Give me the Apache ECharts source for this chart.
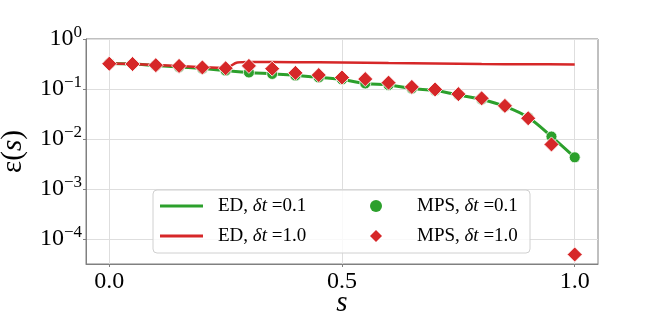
<!DOCTYPE html>
<html>
<head>
<meta charset="utf-8">
<script src="https://cdn.jsdelivr.net/npm/echarts@6/dist/echarts.min.js"></script>
<style>
  html, body { margin: 0; padding: 0; background: #fff; }
  #chart { width: 665px; height: 331px; }
</style>
</head>
<body>
<div id="chart"></div>
<script>
// s grid of the MPS points
const sGrid = [0, 0.05, 0.1, 0.15, 0.2, 0.25, 0.3, 0.35, 0.4, 0.45, 0.5,
  0.55, 0.6, 0.65, 0.7, 0.75, 0.8, 0.85, 0.9, 0.95, 1.0];

// ED, dt = 0.1 (green line)
const ed01 = [0.324, 0.316, 0.295, 0.275, 0.257, 0.234, 0.214, 0.200, 0.186, 0.170, 0.155,
  0.129, 0.120, 0.102, 0.093, 0.076, 0.062, 0.045, 0.027, 0.0112, 0.0043];

// ED, dt = 1.0 (red line)
const ed10S = [0, 0.05, 0.1, 0.15, 0.2, 0.25, 0.275, 0.3, 0.4, 0.5, 0.6, 0.7, 0.8, 0.9, 1.0];
const ed10 = [0.324, 0.316, 0.302, 0.288, 0.272, 0.263, 0.339, 0.347, 0.343, 0.339,
  0.331, 0.324, 0.316, 0.313, 0.309];

// MPS, dt = 0.1 (green dots)
const mps01 = [0.324, 0.316, 0.295, 0.275, 0.257, 0.234, 0.214, 0.200, 0.186, 0.170, 0.155,
  0.129, 0.120, 0.102, 0.093, 0.076, 0.062, 0.045, 0.027, 0.0112, 0.0043];

// MPS, dt = 1.0 (red diamonds)
const mps10 = [0.32, 0.316, 0.30, 0.29, 0.27, 0.26, 0.29, 0.255, 0.21, 0.19, 0.17,
  0.158, 0.134, 0.11, 0.098, 0.079, 0.065, 0.046, 0.026, 0.0078, 0.000049];

const xTicks = [0, 0.5, 1.0];

const pair = (xs, ys) => xs.map((x, i) => [x, ys[i]]);

const FONT = '"Liberation Serif", "DejaVu Serif", serif';
const GREEN = '#2ca02c';
const RED = '#d62728';

const chart = echarts.init(document.getElementById('chart'));

const legendRich = {
  i: { fontFamily: FONT, fontStyle: 'italic', fontSize: 19, color: '#000' }
};
const legendFmt = name => {
  const m = name.split('|');
  return m[0] + ', {i|δt} =' + m[1];
};

chart.setOption({
  animation: false,
  backgroundColor: '#fff',
  grid: { left: 86, right: 67, top: 39, bottom: 67, show: false, outerBoundsMode: 'none', containLabel: false },
  xAxis: {
    type: 'value',
    min: -0.05,
    max: 1.05,
    name: 's',
    nameLocation: 'middle',
    nameGap: 25,
    nameMoveOverlap: false,
    nameTextStyle: { fontFamily: FONT, fontStyle: 'italic', fontSize: 29, color: '#000' },
    axisLine: { show: true, onZero: false, lineStyle: { color: '#808080', width: 1 } },
    axisTick: { show: true, customValues: xTicks, length: 3, lineStyle: { color: '#808080' } },
    axisLabel: {
      customValues: xTicks,
      fontFamily: FONT, fontSize: 24, color: '#000', margin: 6,
      formatter: v => v.toFixed(1)
    },
    splitLine: { show: true, lineStyle: { color: '#dedede', width: 1 } }
  },
  yAxis: {
    type: 'log',
    logBase: 10,
    min: Math.pow(10, -4.5),
    max: 1,
    name: '{e|ε}({s|s})',
    nameLocation: 'middle',
    nameRotate: 90,
    nameGap: 58,
    nameMoveOverlap: false,
    nameTextStyle: {
      fontFamily: FONT, fontSize: 29, color: '#000',
      rich: {
        e: { fontFamily: FONT, fontSize: 29, color: '#000' },
        s: { fontFamily: FONT, fontStyle: 'italic', fontSize: 29, color: '#000' }
      }
    },
    axisLine: { show: true, onZero: false, lineStyle: { color: '#808080', width: 1 } },
    axisTick: { show: true, length: 3, lineStyle: { color: '#808080' } },
    axisLabel: {
      showMinLabel: false,
      margin: 4,
      formatter: v => {
        const e = Math.round(Math.log10(v));
        return '{b|10}{sup|' + (e < 0 ? '\u2212' + (-e) : e) + '}';
      },
      rich: {
        b: { fontFamily: FONT, fontSize: 24, color: '#000' },
        sup: { fontFamily: FONT, fontSize: 17, color: '#000', padding: [0, 0, 12, 0] }
      }
    },
    splitLine: { show: true, lineStyle: { color: '#dedede', width: 1 } }
  },
  graphic: [
    {
      type: 'rect',
      z: 3,
      shape: { x: 153, y: 190, width: 377, height: 63, r: 4 },
      style: { fill: 'rgba(255,255,255,0.8)', stroke: '#d0d0d0', lineWidth: 1 }
    },
    {
      type: 'rect',
      z: 0,
      shape: { x: 86, y: 39, width: 512, height: 225 },
      style: { fill: 'none', stroke: '#808080', lineWidth: 1 }
    }
  ],
  legend: [
    {
      orient: 'vertical',
      left: 160,
      top: 196,
      padding: 0,
      itemGap: 10,
      itemWidth: 43,
      itemHeight: 3,
      z: 5,
      data: [
        { name: 'ED|0.1', icon: 'rect' },
        { name: 'ED|1.0', icon: 'rect' }
      ],
      formatter: legendFmt,
      textStyle: { fontFamily: FONT, fontSize: 19, color: '#000', lineHeight: 20, padding: [0, 0, 0, 10], rich: legendRich }
    },
    {
      orient: 'vertical',
      left: 370,
      top: 196,
      padding: 0,
      itemGap: 10,
      itemWidth: 12,
      itemHeight: 12,
      z: 5,
      data: [
        { name: 'MPS|0.1', icon: 'circle', itemStyle: { borderWidth: 0 } },
        { name: 'MPS|1.0', icon: 'diamond', itemStyle: { borderWidth: 0 } }
      ],
      formatter: legendFmt,
      textStyle: { fontFamily: FONT, fontSize: 19, color: '#000', lineHeight: 20, padding: [0, 0, 0, 30], rich: legendRich }
    }
  ],
  series: [
    {
      name: 'ED|0.1',
      type: 'line',
      data: pair(sGrid, ed01),
      smooth: 0.4,
      showSymbol: false,
      symbol: 'none',
      color: GREEN,
      lineStyle: { color: GREEN, width: 3 },
      z: 2
    },
    {
      name: 'ED|1.0',
      type: 'line',
      data: pair(ed10S, ed10),
      smooth: 0.3,
      showSymbol: false,
      symbol: 'none',
      color: RED,
      lineStyle: { color: RED, width: 2.5 },
      z: 2
    },
    {
      name: 'MPS|0.1',
      type: 'scatter',
      data: pair(sGrid, mps01),
      symbol: 'circle',
      symbolSize: 11,
      itemStyle: { color: GREEN, borderColor: '#fff', borderWidth: 0.8, opacity: 1 },
      z: 3
    },
    {
      name: 'MPS|1.0',
      type: 'scatter',
      data: pair(sGrid, mps10),
      symbol: 'diamond',
      symbolSize: 15,
      itemStyle: { color: RED, borderColor: '#fff', borderWidth: 0.8, opacity: 1 },
      z: 4
    }
  ]
});
</script>
</body>
</html>
